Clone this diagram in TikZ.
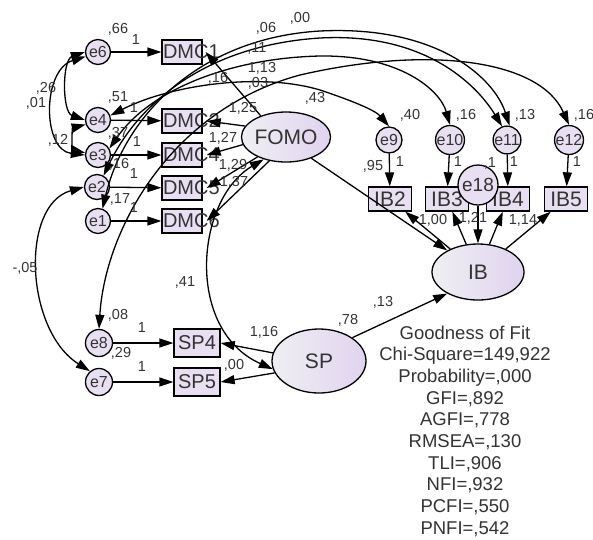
\documentclass[tikz,border=0pt]{standalone}
\usepackage{fontspec}
\setmainfont{Liberation Sans}
\usetikzlibrary{arrows.meta,shapes.geometric}
\definecolor{nodefill}{HTML}{E8E0F2}
\definecolor{ellL}{HTML}{EFEFF3}
\definecolor{ellR}{HTML}{E0D3EF}
\definecolor{txt}{HTML}{333333}
\begin{document}
\begin{tikzpicture}[x=1pt,y=-1pt,line width=1.3pt,
  >={Triangle[length=14pt,width=9pt]},
  errc/.style={circle,draw,fill=nodefill,minimum size=25pt,inner sep=0pt,text=txt,font=\fontsize{16}{16}\selectfont},
  obs/.style={rectangle,draw,fill=nodefill,minimum width=40pt,minimum height=24pt,inner sep=0pt},
  ibbox/.style={rectangle,draw,fill=nodefill,minimum width=43pt,minimum height=24pt,inner sep=0pt,text=txt,font=\fontsize{21}{21}\selectfont},
  lat/.style={ellipse,draw,left color=ellL,right color=ellR,inner sep=0pt,text=txt,font=\fontsize{21}{21}\selectfont},
  lbl/.style={font=\fontsize{14.5}{14.5}\selectfont,inner sep=0pt,text=txt},
  boxtxt/.style={font=\fontsize{20}{20}\selectfont,inner sep=1pt,anchor=west,text=txt},
  arr/.style={->},
  cov/.style={<->}]
\useasboundingbox (0,0) rectangle (593,539);
% left error terms
\node[errc] (e6) at (98,52) {e6};
\node[errc] (e4) at (98,120) {e4};
\node[errc] (e3) at (98,155) {e3};
\node[errc] (e2) at (97,187) {e2};
\node[errc] (e1) at (98,221) {e1};
% DMC boxes
\node[obs,label={[boxtxt,name=t1]west:DMC1}] (d1) at (182,52) {};
\node[obs,label={[boxtxt,name=t2]west:DMC2}] (d2) at (182,121) {};
\node[obs,label={[boxtxt,name=t4]west:DMC4}] (d4) at (182,155) {};
\node[obs,label={[boxtxt,name=t5]west:DMC5}] (d5) at (182,188) {};
\node[obs,label={[boxtxt,name=t6]west:DMC6}] (d6) at (182,221) {};
% latent variables
\node[lat,minimum width=78pt,minimum height=50pt] (fomo) at (286,137) {FOMO};
\node[lat,minimum width=92pt,minimum height=56pt] (ib) at (478,272) {IB};
\node[lat,minimum width=94pt,minimum height=64pt] (sp) at (319,361) {SP};
% IB indicators
\node[ibbox] (ib2) at (390,199) {IB2};
\node[ibbox] (ib3) at (447,199) {IB3};
\node[ibbox] (ib4) at (508,199) {IB4};
\node[ibbox] (ib5) at (566,199) {IB5};
\node[errc,minimum size=26pt] (e9) at (389,140) {e9};
\node[errc,minimum size=26pt] (e10) at (450,140) {e10};
\node[errc,minimum size=26pt] (e11) at (507,140) {e11};
\node[errc,minimum size=26pt] (e12) at (569,140) {e12};
\node[errc,minimum size=40pt,font=\fontsize{19}{19}\selectfont] (e18) at (478,185) {e18};
% SP indicators
\node[obs,minimum width=46pt,minimum height=28pt,text=txt,font=\fontsize{20}{20}\selectfont] (sp4) at (197,343) {SP4};
\node[obs,minimum width=46pt,minimum height=28pt,text=txt,font=\fontsize{20}{20}\selectfont] (sp5) at (197,382) {SP5};
\node[errc,minimum size=27pt] (e8) at (99,343) {e8};
\node[errc,minimum size=27pt] (e7) at (99,382) {e7};

% error -> indicator
\draw[arr] (e6) -- (d1);
\draw[arr] (e4) -- (d2);
\draw[arr] (e3) -- (d4);
\draw[arr] (e2) -- (d5);
\draw[arr] (e1) -- (d6);
\draw[arr] (e8) -- (sp4);
\draw[arr] (e7) -- (sp5);
\draw[arr] (e9) -- (ib2);
\draw[arr] (e10) -- (ib3);
\draw[arr] (e11) -- (ib4);
\draw[arr] (e12) -- (ib5);
\draw[arr] (e18) -- (ib);
% loadings
\draw[arr] (fomo.140) -- ([xshift=3pt]d1.east);
\draw[arr] (fomo.165) -- ([xshift=4pt]d2.east);
\draw[arr] (fomo.190) -- ([xshift=4pt]d4.east);
\draw[arr] (fomo.215) -- ([xshift=4pt]d5.east);
\draw[arr] (fomo.235) -- ([xshift=4pt]d6.east);
\draw[arr] (sp.170) -- (sp4.east);
\draw[arr] (sp.195) -- (sp5.east);
\draw[arr] (ib) -- (ib2);
\draw[arr] (ib) -- (ib3);
\draw[arr] (ib) -- (ib4);
\draw[arr] (ib) -- (ib5);
% structural
\draw[arr] (fomo.-40) -- (ib.145);
\draw[arr] (sp.35) -- (ib.215);
% covariances
\draw[cov] (e6.west) .. controls (62,60) and (62,112) .. (e4.west);
\draw[cov] (e6.200) .. controls (42,70) and (42,150) .. (e3.west);
\draw[cov] (e4.200) .. controls (72,128) and (72,150) .. (e3.170);
\draw[cov] (e2.west) .. controls (20,205) and (25,330) .. (e7.130);
\draw[cov] (fomo.225) .. controls (195,200) and (185,330) .. (sp.190);
\draw[cov] (e8.north) .. controls (105,230) and (170,110) .. (300,75) .. controls (430,45) and (540,60) .. (e12.north);
\draw[cov] (e3.30) .. controls (150,90) and (230,58) .. (320,56) .. controls (400,55) and (440,90) .. (e10.north);
\draw[cov] (e4.20) .. controls (170,85) and (260,72) .. (320,90) .. controls (350,100) and (375,110) .. (e9.north);
\draw[cov] (e2.60) .. controls (140,100) and (210,45) .. (320,38) .. controls (430,32) and (480,90) .. (e11.110);
\draw[cov] (e1.70) .. controls (125,115) and (200,38) .. (320,31) .. controls (440,25) and (495,80) .. (e11.80);

% labels
\node[lbl] (l1) at (118,29) {,66};
\node[lbl] (l2) at (136,40) {1};
\node[lbl] (l3) at (118,97) {,51};
\node[lbl] (l4) at (134,108) {1};
\node[lbl] (l5) at (118,133) {,37};
\node[lbl] (l6) at (137,142) {1};
\node[lbl] (l7) at (119,164) {,16};
\node[lbl] (l8) at (134,174) {1};
\node[lbl] (l9) at (120,199) {,17};
\node[lbl] (l10) at (134,208) {1};
\node[lbl] (l11) at (46,88) {,26};
\node[lbl] (l12) at (36,103) {,01};
\node[lbl] (l13) at (58,140) {,12};
\node[lbl] (l14) at (266,28) {,06};
\node[lbl] (l15) at (300,18) {,00};
\node[lbl] (l16) at (257,48) {,11};
\node[lbl] (l17) at (262,68) {1,13};
\node[lbl] (l18) at (218,78) {,16};
\node[lbl] (l19) at (258,83) {,03};
\node[lbl] (l20) at (315,98) {,43};
\node[lbl] (l21) at (243,108) {1,25};
\node[lbl] (l22) at (223,138) {1,27};
\node[lbl] (l23) at (233,165) {1,29};
\node[lbl] (l24) at (234,182) {1,37};
\node[lbl] (l25) at (410,115) {,40};
\node[lbl] (l26) at (466,115) {,16};
\node[lbl] (l27) at (525,115) {,13};
\node[lbl] (l28) at (584,115) {,16};
\node[lbl] (l29) at (373,166) {,95};
\node[lbl] (l30) at (400,162) {1};
\node[lbl] (l31) at (458,162) {1};
\node[lbl] (l32) at (490,163) {,1};
\node[lbl] (l33) at (514,162) {1};
\node[lbl] (l34) at (577,162) {1};
\node[lbl] (l35) at (433,220) {1,00};
\node[lbl] (l36) at (473,218) {1,21};
\node[lbl] (l37) at (523,220) {1,14};
\node[lbl] (l38) at (383,302) {,13};
\node[lbl] (l39) at (348,320) {,78};
\node[lbl] (l40) at (118,315) {,08};
\node[lbl] (l41) at (121,353) {,29};
\node[lbl] (l42) at (142,328) {1};
\node[lbl] (l43) at (142,367) {1};
\node[lbl] (l44) at (264,332) {1,16};
\node[lbl] (l45) at (234,365) {,00};
\node[lbl] (l46) at (25,268) {-,05};
\node[lbl] (l47) at (185,282) {,41};
% goodness of fit
\node[font=\fontsize{18.5}{21.7}\selectfont,align=center,text=txt,inner sep=0pt,anchor=north] (gof) at (465,325)
 {Goodness of Fit\\Chi-Square=149,922\\Probability=,000\\GFI=,892\\AGFI=,778\\RMSEA=,130\\TLI=,906\\NFI=,932\\PCFI=,550\\PNFI=,542};
\end{tikzpicture}
\end{document}
